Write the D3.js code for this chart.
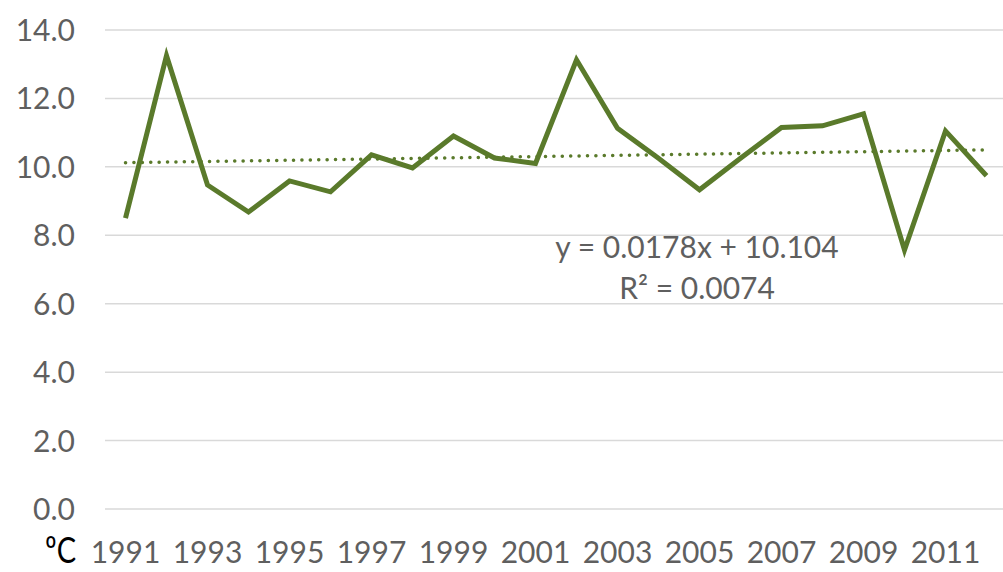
<!DOCTYPE html>
<html>
<head>
<meta charset="utf-8">
<script src="https://cdn.jsdelivr.net/npm/d3@7"></script>
<style>
  body { margin: 0; background: #fff; }
  text { font-family: Lato, "Open Sans", sans-serif; }
</style>
</head>
<body>
<div id="chart"></div>
<script>
var years = d3.range(1991, 2013)
var temps = [8.5, 13.25, 9.47, 8.68, 9.59, 9.27, 10.35, 9.97, 10.9, 10.26, 10.1,
  13.13, 11.13, 10.25, 9.33, 10.25, 11.15, 11.2, 11.55, 7.57, 11.05, 9.74]
var yTicks = [0, 2, 4, 6, 8, 10, 12, 14]
var xLabels = years.filter(function (d, i) { return i % 2 == 0 })
var slope = 0.0178, intercept = 10.104
var eqLines = ["y = 0.0178x + 10.104", "R\u00b2 = 0.0074"]

var width = 1003, height = 572
var green = "#5a7a2b"

var svg = d3.select("#chart").append("svg")
  .attr("width", width)
  .attr("height", height)

var x = d3.scaleBand()
  .domain(years)
  .range([105, 105 + 41 * years.length])

var y = d3.scaleLinear()
  .domain([0, 14])
  .range([509, 30])

// gridlines
svg.append("g")
  .selectAll("line")
  .data(yTicks)
  .enter().append("line")
  .attr("x1", 105)
  .attr("x2", width)
  .attr("y1", function (d) { return y(d) })
  .attr("y2", function (d) { return y(d) })
  .attr("stroke", "#d9d9d9")
  .attr("stroke-width", 1.5)

// y labels
svg.append("g")
  .selectAll("text")
  .data(yTicks)
  .enter().append("text")
  .attr("x", 75)
  .attr("y", function (d) { return y(d) + 11 })
  .attr("text-anchor", "end")
  .attr("font-size", 30)
  .attr("fill", "#5f5f5f")
  .text(function (d) { return d.toFixed(1) })

// x labels
svg.append("g")
  .selectAll("text")
  .data(xLabels)
  .enter().append("text")
  .attr("x", function (d) { return x(d) + x.bandwidth() / 2 })
  .attr("y", 563)
  .attr("text-anchor", "middle")
  .attr("font-size", 30)
  .attr("fill", "#5f5f5f")
  .text(function (d) { return d })

// unit
svg.append("text")
  .attr("x", 45)
  .attr("y", 563)
  .attr("font-size", 37)
  .attr("textLength", 31)
  .attr("lengthAdjust", "spacingAndGlyphs")
  .attr("fill", "#000")
  .text("\u00baC")

var cx = function (d) { return x(d) + x.bandwidth() / 2 }

// trendline
var trend = years.map(function (d, i) { return [d, intercept + slope * (i + 1)] })
svg.append("path")
  .datum(trend)
  .attr("d", d3.line()
    .x(function (d) { return cx(d[0]) })
    .y(function (d) { return y(d[1]) }))
  .attr("fill", "none")
  .attr("stroke", green)
  .attr("stroke-width", 3.5)
  .attr("stroke-linecap", "round")
  .attr("stroke-dasharray", "0.1 8.3")

// data line
svg.append("path")
  .datum(temps)
  .attr("d", d3.line()
    .x(function (d, i) { return cx(years[i]) })
    .y(function (d) { return y(d) }))
  .attr("fill", "none")
  .attr("stroke", green)
  .attr("stroke-width", 5)
  .attr("stroke-linejoin", "miter")

// equation
svg.append("g")
  .selectAll("text")
  .data(eqLines)
  .enter().append("text")
  .attr("x", 697)
  .attr("y", function (d, i) { return 258 + i * 41 })
  .attr("text-anchor", "middle")
  .attr("font-size", 30)
  .attr("fill", "#5f5f5f")
  .text(function (d) { return d })
</script>
</body>
</html>
